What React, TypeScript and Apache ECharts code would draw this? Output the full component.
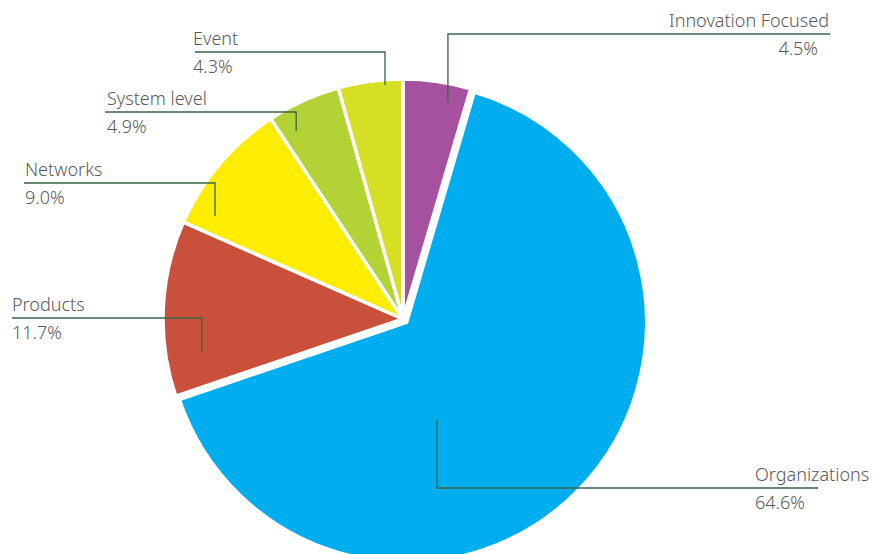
import React, { useEffect, useRef } from "react";
import * as echarts from "echarts";

const categories = ["Innovation Focused", "Organizations", "Products", "Networks", "System level", "Event"];
const values = [4.5, 64.6, 11.7, 9.0, 4.9, 4.3];
const colors = ["#A6519F", "#00AEEF", "#C9503A", "#FFED00", "#B2D235", "#D6DF23"];

// layout of the pie and of the label callouts (pixels / polar)
const CX = 403;
const CY = 319;
const R = 240;
const callouts = [
  { angle: 11.7, frac: 0.923, lineY: 34, endX: 830, textX: 829, align: "right", pctPad: 11 },
  { angle: 161.4, frac: 0.444, lineY: 488, endX: 818, textX: 755, align: "left", pctPad: 0 },
  { angle: 260.7, frac: 0.849, lineY: 318, endX: 12, textX: 12, align: "left", pctPad: 0 },
  { angle: 298.7, frac: 0.893, lineY: 183, endX: 24, textX: 25, align: "left", pctPad: 0 },
  { angle: 330.4, frac: 0.901, lineY: 112, endX: 105, textX: 107, align: "left", pctPad: 0 },
  { angle: 355.6, frac: 0.978, lineY: 52, endX: 195, textX: 193, align: "left", pctPad: 0 },
];

const FONT = "'Noto Sans', 'Open Sans', sans-serif";
const TEXT = "#5a5a5a";

const richFor = (pad: number) => ({
  n: { fontSize: 18, fontFamily: FONT, fontWeight: 300, color: TEXT, lineHeight: 26, padding: [0, 0, 2, 0] },
  p: { fontSize: 18, fontFamily: FONT, fontWeight: 300, color: TEXT, lineHeight: 26, padding: [2, pad, 0, 0] },
});

export default function App() {
  const ref = useRef<HTMLDivElement>(null);
  useEffect(() => {
    if (!ref.current) return;
    const chart = echarts.init(ref.current, null, { renderer: "svg" });
    const slices = categories.map((name, i) => ({
      name,
      value: values[i],
      selected: name === "Organizations",
      itemStyle: { color: colors[i] },
    }));
    const labelData = categories.map((name, i) => ({
      name,
      value: values[i],
      itemStyle: { color: "rgba(0,0,0,0)" },
      label: { rich: richFor(callouts[i].pctPad) },
    }));
    const common = {
      type: "pie",
      center: [CX, CY],
      radius: [0, R],
      startAngle: 90,
      clockwise: true,
      avoidLabelOverlap: false,
      emphasis: { disabled: true },
      silent: true,
    };
    chart.setOption({
      animation: false,
      backgroundColor: "#ffffff",
      series: [
        {
          ...common,
          z: 2,
          selectedMode: "single",
          selectedOffset: 5,
          itemStyle: { borderColor: "#ffffff", borderWidth: 3.5 },
          data: slices,
          label: { show: false },
          labelLine: { show: false },
        },
        {
          ...common,
          z: 5,
          selectedMode: false,
          itemStyle: { borderWidth: 0 },
          data: labelData,
          label: {
            show: true,
            position: "outside",
            color: TEXT,
            formatter: (p: any) => `{n|${p.name}}\n{p|${values[p.dataIndex].toFixed(1)}%}`,
            rich: richFor(0),
          },
          labelLine: {
            show: true,
            length: 10,
            length2: 10,
            lineStyle: { color: "#3a6446", width: 1.3 },
          },
          labelLayout: (params: any) => {
            const c = callouts[params.dataIndex];
            const a = (c.angle * Math.PI) / 180;
            const ax = CX + Math.sin(a) * R * c.frac;
            const ay = CY - Math.cos(a) * R * c.frac;
            return {
              x: c.textX,
              y: c.lineY,
              align: c.align,
              verticalAlign: "middle",
              labelLinePoints: [
                [ax, ay],
                [ax, c.lineY],
                [c.endX, c.lineY],
              ],
            };
          },
        },
      ],
    });
    return () => chart.dispose();
  }, []);
  return (
    <div
      ref={ref}
      style={{ position: "fixed", left: 0, top: 0, width: 875, height: 554 }}
    />
  );
}
